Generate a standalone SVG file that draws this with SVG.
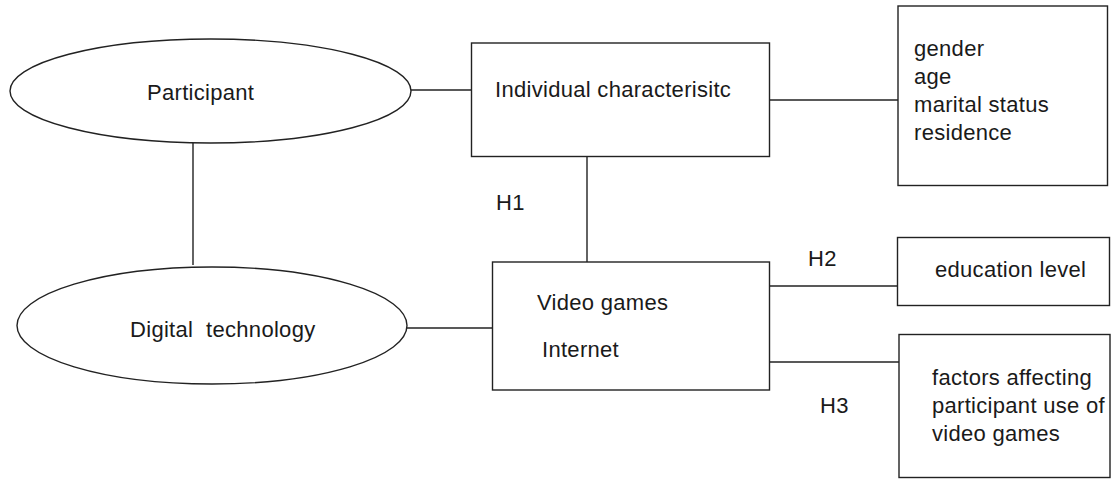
<svg xmlns="http://www.w3.org/2000/svg" width="1112" height="480" viewBox="0 0 1112 480">
  <style>
    .shape { fill: #ffffff; stroke: #222222; stroke-width: 1.4; }
    .link { fill: none; stroke: #222222; stroke-width: 1.4; }
    text { font-family: "Liberation Sans", Arial, sans-serif; font-size: 22px; letter-spacing: 0.3px; fill: #1a1a1a; }
  </style>
  <rect width="1112" height="480" fill="#ffffff"/>

  <!-- connectors -->
  <g id="connectors">
    <line class="link" x1="411" y1="90" x2="474" y2="90"/>
    <line class="link" x1="193" y1="143" x2="193" y2="265"/>
    <line class="link" x1="587" y1="157" x2="587" y2="262"/>
    <line class="link" x1="770" y1="100" x2="900" y2="100"/>
    <line class="link" x1="407" y1="328" x2="497" y2="328"/>
    <line class="link" x1="770" y1="286" x2="897" y2="286"/>
    <line class="link" x1="767" y1="362" x2="899" y2="362"/>
  </g>

  <!-- hypothesis labels -->
  <g id="labels">
    <text x="496" y="210">H1</text>
    <text x="808" y="266">H2</text>
    <text x="820" y="413">H3</text>
  </g>

  <g id="participant">
    <ellipse class="shape" cx="210.5" cy="91" rx="200.5" ry="52"/>
    <text x="147" y="100">Participant</text>
  </g>

  <g id="digital-technology">
    <ellipse class="shape" cx="212" cy="325.5" rx="195" ry="58.5"/>
    <text x="130" y="337" xml:space="preserve">Digital  technology</text>
  </g>

  <g id="individual-characteristic">
    <rect class="shape" x="471.5" y="43" width="298" height="113.5"/>
    <text x="495" y="97">Individual characterisitc</text>
  </g>

  <g id="attributes">
    <rect class="shape" x="898" y="6" width="209.5" height="179.5"/>
    <text x="914" y="56">gender</text>
    <text x="914" y="84">age</text>
    <text x="914" y="112">marital status</text>
    <text x="914" y="140">residence</text>
  </g>

  <g id="video-games-internet">
    <rect class="shape" x="492.5" y="262" width="277" height="128"/>
    <text x="537" y="310">Video games</text>
    <text x="542" y="357">Internet</text>
  </g>

  <g id="education-level">
    <rect class="shape" x="897.5" y="237.5" width="212" height="68"/>
    <text x="935" y="277">education level</text>
  </g>

  <g id="factors">
    <rect class="shape" x="899" y="334.5" width="211" height="143"/>
    <text x="932" y="385">factors affecting</text>
    <text x="932" y="413">participant use of</text>
    <text x="932" y="441">video games</text>
  </g>
</svg>
